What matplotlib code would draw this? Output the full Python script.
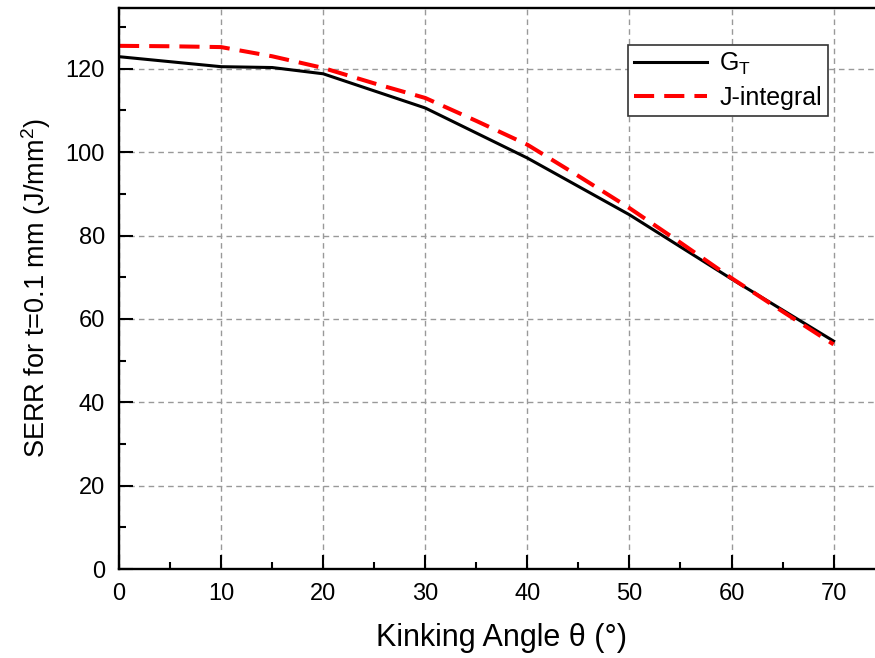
import matplotlib
matplotlib.use('Agg')
import matplotlib.pyplot as plt
from matplotlib.ticker import MultipleLocator

plt.rcParams['font.family'] = ['Liberation Sans', 'DejaVu Sans']

# G_T (total SERR) values
gt_angle = [0, 10, 15, 20, 30, 40, 50, 60, 70]
gt_serr = [122.9, 120.5, 120.3, 118.8, 110.6, 98.6, 85.0, 69.6, 54.7]

# J-integral values
j_angle = [0, 5, 10, 15, 20, 25, 30, 35, 40, 45, 50, 55, 60, 65, 70]
j_serr = [125.5, 125.4, 125.2, 123.0, 120.2, 116.5, 113.0, 107.5, 101.8,
          94.3, 86.6, 78.3, 69.8, 61.8, 53.9]

fig = plt.figure(figsize=(8.75, 6.58), dpi=100)
ax = fig.add_axes([0.136, 0.135, 0.875, 0.853])

ax.plot(gt_angle, gt_serr, color='black', lw=2.2, label='G$_\\mathregular{T}$')
ax.plot(j_angle, j_serr, color='red', lw=2.9, dashes=(5, 2.5), label='J-integral')

ax.set_xlim(0, 75)
ax.set_ylim(0, 134.6)
ax.xaxis.set_major_locator(MultipleLocator(10))
ax.xaxis.set_minor_locator(MultipleLocator(5))
ax.yaxis.set_major_locator(MultipleLocator(20))
ax.yaxis.set_minor_locator(MultipleLocator(10))
ax.tick_params(which='both', direction='in', labelsize=17, width=1.5,
               top=False, right=False)
ax.tick_params(which='major', length=10, pad=10)
ax.tick_params(which='minor', length=5)
for s in ax.spines.values():
    s.set_linewidth(1.7)

ax.grid(True, which='major', color='#999999', ls=(0, (4, 3)), lw=1)

ax.set_xlabel('Kinking Angle θ (°)', fontsize=22, labelpad=13)
ax.set_ylabel('SERR for t=0.1 mm (J/mm$^\\mathregular{2}$)', fontsize=19.5, labelpad=9.5)

leg = ax.legend(loc='upper right', bbox_to_anchor=(0.926, 0.934), borderaxespad=0,
                fontsize=18, fancybox=False, framealpha=1, edgecolor='#333333',
                handlelength=2.9, handletextpad=0.5, borderpad=0.25,
                labelspacing=0.35)
leg.get_frame().set_linewidth(1.2)

fig.savefig('out.png', dpi=100)
